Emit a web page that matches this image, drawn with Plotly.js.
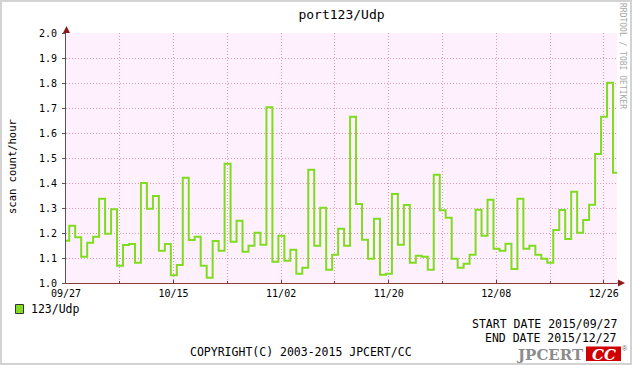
<!DOCTYPE html>
<html><head><meta charset="utf-8">
<script src="https://cdn.plot.ly/plotly-3.0.1.min.js"></script>
<style>
html,body{margin:0;padding:0;background:#d3d3d3;}
#chart{position:absolute;left:2px;top:2px;width:628px;height:361px;background:#fff;}
</style></head><body>
<div id="chart"></div>
<script>
// ---- data ----
const seriesName = "123/Udp";
const chartTitle = "port123/Udp";
const yTitle = "scan count/hour";
const startDate = "2015/09/27";
const endDate = "2015/12/27";
// daily scan counts per hour, first value is the partial sample at the start
const scanValues = [
  1.169, 1.229, 1.183, 1.105, 1.161, 1.185, 1.337, 1.197, 1.295, 1.069,
  1.152, 1.156, 1.081, 1.400, 1.297, 1.348, 1.129, 1.156, 1.031, 1.072,
  1.421, 1.172, 1.185, 1.069, 1.021, 1.168, 1.129, 1.477, 1.165, 1.249,
  1.125, 1.149, 1.201, 1.153, 1.703, 1.085, 1.189, 1.089, 1.133, 1.037,
  1.061, 1.453, 1.149, 1.301, 1.053, 1.113, 1.217, 1.149, 1.665, 1.316,
  1.173, 1.097, 1.257, 1.033, 1.037, 1.356, 1.153, 1.312, 1.081, 1.109,
  1.105, 1.053, 1.433, 1.291, 1.261, 1.097, 1.061, 1.077, 1.113, 1.293,
  1.189, 1.333, 1.137, 1.129, 1.157, 1.056, 1.337, 1.137, 1.149, 1.113,
  1.097, 1.081, 1.212, 1.292, 1.176, 1.365, 1.201, 1.252, 1.313, 1.516,
  1.665, 1.801, 1.441
];
const xRange = ["2015-09-27 00:00:00", "2015-12-28 05:00:00"];
const xTickLabelsStart = "2015-09-27";
const yRange = [1.0, 2.0];

// ---- build sample times: first sample at range start, then daily samples ----
const DAY = 86400000;
const t0 = Date.UTC(2015, 8, 27, 0, 0, 0);
const firstStep = Date.UTC(2015, 8, 27, 13, 0, 0);
function fmt(ms){ return new Date(ms).toISOString().slice(0,19).replace('T',' '); }
const xs = scanValues.map((v,i) => i === 0 ? fmt(t0) : fmt(firstStep + (i-1)*DAY));
const ys = scanValues.slice();
// close the last step at the end of the time range
xs.push(xRange[1]); ys.push(scanValues[scanValues.length-1]);

// ---- page geometry helpers (page px -> paper coords) ----
const PL = 66, PR = 617, PT = 33, PB = 283;
const px = x => (x - PL) / (PR - PL);
const py = y => (PB - y) / (PB - PT);

const mono = "DejaVu Sans Mono";
const gridCol = "#dc9ab4";
const gridDash = "1px,2px";
const lineGreen = "#7fdc1f";

const trace = {
  x: xs, y: ys, type: "scatter", mode: "lines",
  line: {shape: "hv", color: lineGreen, width: 2},
  name: seriesName, showlegend: false, hoverinfo: "x+y"
};

const layout = {
  width: 628, height: 361,
  margin: {l: PL-2, r: 630-PR, t: PT-2, b: 363-PB, pad: 0},
  paper_bgcolor: "#ffffff",
  plot_bgcolor: "#fff0fd",
  showlegend: false,
  title: {text: chartTitle, font: {family: mono, size: 13, color: "#000"},
          x: 0.5, xref: "paper", xanchor: "center", y: 1 - 12/361, yref: "container", yanchor: "middle"},
  xaxis: {
    type: "date", range: xRange,
    tick0: xTickLabelsStart, dtick: 18*DAY, tickformat: "%m/%d",
    showgrid: true, gridcolor: gridCol, griddash: gridDash, gridwidth: 1,
    minor: {dtick: 9*DAY, tick0: xTickLabelsStart, showgrid: true, gridcolor: gridCol, griddash: gridDash, gridwidth: 1,
            ticks: "inside", ticklen: 2, tickcolor: "#8b2a2a"},
    ticks: "inside", ticklen: 3, tickcolor: "#8b2a2a",
    showline: true, linecolor: "#8b3a3a", linewidth: 1,
    zeroline: false,
    tickfont: {family: mono, size: 10, color: "#000"},
    ticklabelstandoff: 1
  },
  yaxis: {
    range: yRange, tick0: 1, dtick: 0.1, tickformat: ".1f",
    showgrid: true, gridcolor: gridCol, griddash: gridDash, gridwidth: 1,
    ticks: "outside", ticklen: 3, tickcolor: "#555",
    showline: true, linecolor: "#555", linewidth: 1,
    zeroline: false,
    tickfont: {family: mono, size: 10, color: "#000"},
    ticklabelstandoff: 3
  },
  shapes: [
    // y-axis arrow
    {type: "path", xref: "paper", yref: "paper",
     path: `M ${px(63)} ${py(33)} L ${px(70)} ${py(33)} L ${px(66.5)} ${py(26)} Z`,
     fillcolor: "#8b1a1a", line: {width: 0}},
    // x-axis extension + arrow
    {type: "line", xref: "paper", yref: "paper", x0: 1, x1: px(620), y0: 0, y1: 0,
     line: {color: "#8b3a3a", width: 1}},
    {type: "path", xref: "paper", yref: "paper",
     path: `M ${px(618)} ${py(279.5)} L ${px(618)} ${py(286.5)} L ${px(625)} ${py(283)} Z`,
     fillcolor: "#8b1a1a", line: {width: 0}},
    // legend swatch
    {type: "rect", xref: "paper", yref: "paper",
     x0: px(15.5), x1: px(23.5), y0: py(304.5), y1: py(313.5),
     fillcolor: lineGreen, line: {color: "#333", width: 1}},
    // logo red box
    {type: "rect", xref: "paper", yref: "paper",
     x0: px(586), x1: px(621), y0: py(346.5), y1: py(361),
     fillcolor: "#d10000", line: {width: 0}}
  ],
  annotations: [
    {text: yTitle, xref: "paper", yref: "paper", x: px(12), y: py(167), textangle: -90,
     showarrow: false, xanchor: "center", yanchor: "middle",
     font: {family: mono, size: 10.5, color: "#000"}},
    {text: "RRDTOOL / TOBI OETIKER", xref: "paper", yref: "paper", x: px(622), y: py(56), textangle: 90,
     showarrow: false, xanchor: "center", yanchor: "middle",
     font: {family: mono, size: 8, color: "#a8a8a8"}},
    {text: seriesName, xref: "paper", yref: "paper", x: px(29), y: py(309),
     showarrow: false, xanchor: "left", yanchor: "middle",
     font: {family: mono, size: 11.5, color: "#000"}},
    {text: "START DATE " + startDate, xref: "paper", yref: "paper", x: px(618), y: py(323.5),
     showarrow: false, xanchor: "right", yanchor: "middle", borderpad: 0,
     font: {family: mono, size: 11.5, color: "#000"}},
    {text: "END DATE " + endDate, xref: "paper", yref: "paper", x: px(618), y: py(338),
     showarrow: false, xanchor: "right", yanchor: "middle", borderpad: 0,
     font: {family: mono, size: 11.5, color: "#000"}},
    {text: "COPYRIGHT(C) 2003-2015 JPCERT/CC", xref: "paper", yref: "paper", x: px(301), y: py(352),
     showarrow: false, xanchor: "center", yanchor: "middle",
     font: {family: mono, size: 11.5, color: "#000"}},
    {text: "<b>JPCERT</b>", xref: "paper", yref: "paper", x: px(585), y: py(355),
     showarrow: false, xanchor: "right", yanchor: "middle", borderpad: 0,
     font: {family: "DejaVu Serif", size: 15, color: "#8c8c8c"}},
    {text: "<b><i>CC</i></b>", xref: "paper", yref: "paper", x: px(603.5), y: py(355),
     showarrow: false, xanchor: "center", yanchor: "middle", borderpad: 0,
     font: {family: "DejaVu Serif", size: 15, color: "#ffffff"}},
    {text: "®", xref: "paper", yref: "paper", x: px(621), y: py(348),
     showarrow: false, xanchor: "left", yanchor: "middle", borderpad: 0,
     font: {family: "Liberation Sans", size: 7, color: "#666"}}
  ]
};

Plotly.newPlot("chart", [trace], layout, {displayModeBar: false, staticPlot: true});
</script>
</body></html>
